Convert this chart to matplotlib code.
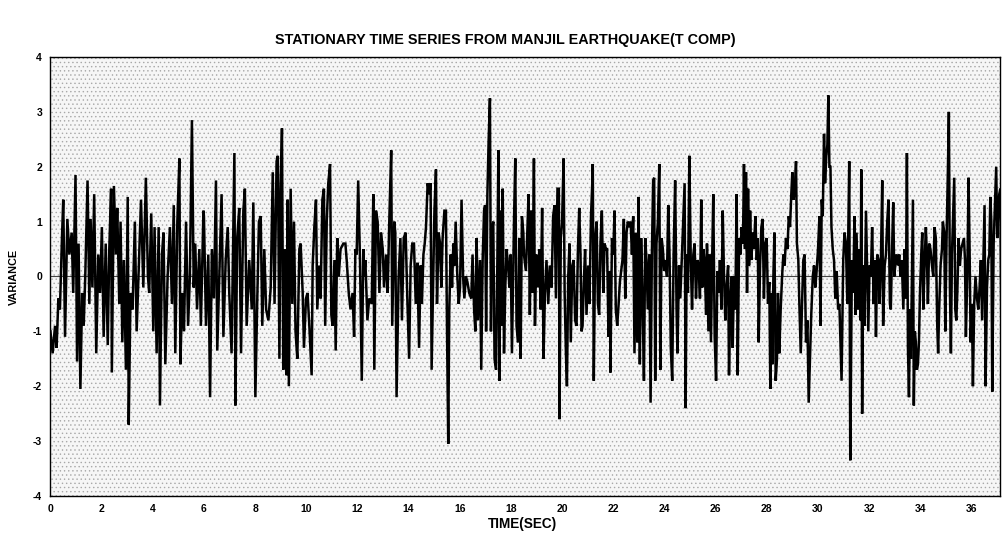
import matplotlib
matplotlib.use("Agg")
import matplotlib.pyplot as plt
from matplotlib.patches import Rectangle
import numpy as np

TITLE = "STATIONARY TIME SERIES FROM MANJIL EARTHQUAKE(T COMP)"
X_LABEL = "TIME(SEC)"
Y_LABEL = "VARIANCE"
x_ticks = list(range(0, 37, 2))
y_ticks = [-4, -3, -2, -1, 0, 1, 2, 3, 4]

# (time in s, value), segment by segment
seg_0_6 = [(0.0,-1.0),(0.085,-1.4),(0.18,-0.9),(0.24,-1.3),(0.31,-0.4),(0.37,-0.6),(0.45,0.7),(0.50,1.4),
    (0.57,-1.1),(0.66,1.05),(0.74,0.4),(0.83,0.8),(0.89,-0.3),(0.98,1.85),(1.04,-1.55),(1.10,0.6),(1.17,-2.05),
    (1.24,-0.3),(1.30,-0.9),(1.36,0.0),(1.45,1.75),(1.52,-0.5),(1.57,1.05),(1.64,-0.2),(1.71,1.5),(1.79,-1.4),
    (1.87,0.4),(1.94,-0.3),(2.01,0.9),(2.08,-1.1),(2.16,0.6),(2.24,-1.25),(2.30,0.5),(2.37,1.6),(2.40,-1.75),
    (2.48,1.65),(2.56,0.4),(2.61,1.25),(2.69,-0.5),(2.74,1.0),(2.81,-1.2),(2.87,0.3),(2.95,-1.7),(3.02,1.45),
    (3.06,-2.7),(3.13,-0.3),(3.21,-0.6),(3.30,1.0),(3.37,-1.0),(3.47,0.4),(3.54,1.4),(3.63,-0.2),(3.73,1.8),
    (3.81,0.0),(3.86,-0.3),(3.94,1.15),(4.02,-1.0),(4.07,0.9),(4.15,-1.4),(4.23,0.9),(4.28,-2.35),(4.36,0.4),
    (4.42,0.8),(4.49,-1.6),(4.58,0.0),(4.67,0.9),(4.75,-0.5),(4.82,1.3),(4.88,-1.4),(4.96,1.0),(5.04,2.15),
    (5.08,-1.6),(5.15,-0.3),(5.22,-1.0),(5.30,1.0),(5.38,-0.9),(5.45,0.0),(5.53,2.85),(5.60,-0.2),(5.66,0.6),
    (5.73,-0.6),(5.82,0.5),(5.88,-0.9),(5.98,1.2)]

seg_6_12 = [(6.00,1.1),(6.08,-0.9),(6.17,0.4),(6.24,-2.2),(6.31,0.5),(6.39,-0.4),(6.47,1.75),(6.52,-1.35),
    (6.60,0.0),(6.69,1.5),(6.76,-1.1),(6.85,0.3),(6.93,0.9),(6.99,-0.3),(7.08,-1.4),(7.19,2.25),(7.23,-2.35),
    (7.30,0.7),(7.38,1.25),(7.45,-1.4),(7.54,1.2),(7.60,1.6),(7.67,-0.9),(7.77,0.3),(7.87,-0.6),(7.93,1.35),
    (8.01,-2.2),(8.09,-0.3),(8.15,1.0),(8.22,1.1),(8.28,-0.9),(8.36,0.5),(8.43,-0.6),(8.52,-0.8),(8.61,-0.2),
    (8.69,1.9),(8.76,-0.5),(8.84,2.1),(8.89,2.2),(8.95,-1.5),(9.00,1.6),(9.05,2.7),(9.10,-1.7),(9.17,0.5),
    (9.23,-1.8),(9.27,1.4),(9.32,-2.0),(9.39,1.6),(9.455,-0.5),(9.52,1.0),(9.58,-1.0),(9.65,-1.5),(9.73,0.5),
    (9.78,0.6),(9.86,-0.3),(9.91,-1.3),(9.99,-0.4),(10.05,-0.3),(10.12,-0.9),(10.21,-1.8),(10.25,0.2),
    (10.315,0.9),(10.38,1.4),(10.43,-0.6),(10.51,0.2),(10.56,-0.4),(10.63,1.4),(10.69,1.6),(10.74,-0.9),
    (10.80,1.0),(10.86,1.7),(10.93,2.05),(10.98,-0.7),(11.03,-0.9),(11.10,0.3),(11.15,-1.35),(11.21,0.7),
    (11.27,0.0),(11.34,0.5),(11.45,0.6),(11.53,0.6),(11.58,0.3),(11.66,-0.3),(11.73,-0.6),(11.81,-0.3),
    (11.87,-1.1),(11.92,0.5),(11.97,0.4),(12.03,1.75),(12.10,0.3),(12.17,-1.9),(12.23,0.5)]

seg_12_18 = [(12.26,0.0),(12.31,0.3),(12.39,-0.8),(12.46,-0.4),(12.56,-0.5),(12.62,1.5),(12.66,-1.7),
    (12.725,1.2),(12.79,1.0),(12.86,-0.3),(12.92,0.8),(12.99,0.5),(13.04,-0.2),(13.12,0.4),(13.18,-0.3),
    (13.25,1.1),(13.32,2.3),(13.36,-0.9),(13.44,1.0),(13.48,0.8),(13.53,-2.2),(13.61,0.0),(13.68,0.7),
    (13.74,-0.8),(13.81,0.7),(13.885,0.8),(13.95,-0.4),(14.02,-1.5),(14.08,0.2),(14.145,0.6),(14.21,0.6),
    (14.28,-0.5),(14.34,0.25),(14.41,-1.3),(14.47,0.2),(14.52,-0.5),(14.58,0.4),(14.63,0.6),(14.68,0.9),
    (14.745,1.7),(14.81,1.5),(14.86,1.7),(14.90,-1.7),(14.97,0.2),(15.01,1.2),(15.07,1.95),(15.11,-0.5),
    (15.175,0.8),(15.23,0.6),(15.28,-0.2),(15.33,0.7),(15.40,1.2),(15.46,1.2),(15.50,-0.9),(15.55,-3.05),
    (15.59,-0.6),(15.645,0.4),(15.70,-0.2),(15.75,0.6),(15.79,0.2),(15.84,1.0),(15.905,0.0),(15.96,-0.5),
    (16.01,-0.2),(16.07,1.4),(16.13,0.0),(16.18,-0.4),(16.24,0.0),(16.30,-0.1),(16.37,-0.3),(16.45,-0.4),
    (16.50,0.4),(16.56,-0.6),(16.61,-1.0),(16.66,0.7),(16.71,-0.8),(16.79,0.3),(16.84,-1.7),(16.895,0.3),
    (16.95,1.2),(16.99,1.3),(17.03,-1.0),(17.08,1.5),(17.13,2.5),(17.18,3.25),(17.22,-1.0),(17.26,0.8),
    (17.31,1.0),(17.36,-1.5),(17.42,-1.7),(17.47,0.3),(17.51,2.3),(17.55,-1.9),(17.60,1.2),(17.64,-0.9),
    (17.68,1.6),(17.73,-1.4),(17.78,-0.2),(17.83,0.5),(17.89,0.2),(17.94,-0.2),(17.99,0.4),(18.04,-1.4),
    (18.12,1.0),(18.17,2.15),(18.22,-0.9),(18.28,-1.2),(18.33,0.7),(18.38,-1.5),(18.43,1.1),(18.485,0.8)]

seg_18_25 = [(18.51,0.4),(18.585,0.1),(18.64,0.8),(18.69,1.5),(18.74,-0.7),(18.79,1.2),(18.845,-0.3),
    (18.90,2.15),(18.94,-0.9),(18.99,0.4),(19.05,-0.2),(19.11,0.5),(19.16,-0.6),(19.22,1.25),(19.275,-1.5),
    (19.33,-0.3),(19.39,0.3),(19.46,-0.5),(19.52,0.2),(19.59,-0.2),(19.65,1.1),(19.705,1.3),(19.76,-0.4),
    (19.82,1.6),(19.875,1.6),(19.90,-2.6),(19.95,0.7),(20.00,1.0),(20.06,2.15),(20.10,-0.3),(20.15,-1.4),
    (20.19,-2.0),(20.24,0.0),(20.29,0.6),(20.34,-1.2),(20.40,0.2),(20.45,0.3),(20.51,-0.8),(20.565,-0.9),
    (20.62,0.5),(20.67,1.25),(20.72,0.4),(20.76,-1.0),(20.80,-0.9),(20.85,-0.1),(20.90,0.5),(20.955,-0.7),
    (21.02,0.2),(21.07,-0.5),(21.13,1.1),(21.18,1.7),(21.20,2.05),(21.24,-1.9),(21.295,0.7),(21.35,1.0),
    (21.40,-0.5),(21.45,-0.7),(21.50,0.6),(21.555,1.2),(21.61,-0.3),(21.66,0.6),(21.71,0.5),(21.76,0.5),
    (21.815,-1.1),(21.87,0.1),(21.89,-1.75),(21.95,0.7),(22.00,0.4),(22.05,1.2),(22.10,-0.6),(22.155,-0.9),
    (22.21,-0.5),(22.26,-0.1),(22.31,0.1),(22.36,0.3),(22.415,1.05),(22.47,-0.4),(22.52,0.8),(22.57,1.0),
    (22.62,0.9),(22.68,1.0),(22.73,0.4),(22.78,1.1),(22.83,-1.4),(22.885,0.8),(22.94,-1.2),(22.99,1.45),
    (23.04,-1.6),(23.09,0.7),(23.145,-0.4),(23.20,-1.9),(23.25,0.7),(23.30,0.3),(23.35,-0.6),(23.41,0.4),
    (23.46,-2.3),(23.51,0.4),(23.56,1.75),(23.60,1.8),(23.64,-1.9),(23.69,0.6),(23.745,1.0),(23.80,2.05),
    (23.84,-1.7),(23.89,0.7),(23.94,0.5),(23.99,0.1),(24.04,0.3),(24.10,0.0),(24.15,1.3),(24.20,0.4),
    (24.25,-1.3),(24.305,-1.9),(24.36,0.4),(24.42,1.75),(24.475,-0.6),(24.51,-1.4),(24.57,0.2),(24.62,-0.4),
    (24.67,0.2)]

seg_25_31 = [(24.79,1.7),(24.83,-2.4),(24.87,0.4),(24.92,-0.3),(24.975,2.2),(25.03,0.3),(25.08,-0.6),
    (25.13,0.4),(25.18,0.6),(25.235,-0.4),(25.29,0.3),(25.34,0.2),(25.39,-0.4),(25.44,1.4),(25.48,-0.2),
    (25.52,0.5),(25.57,0.3),(25.63,-0.7),(25.665,0.6),(25.72,-1.0),(25.77,0.4),(25.82,-1.2),(25.87,0.4),
    (25.91,1.5),(25.965,-1.1),(26.02,-1.9),(26.07,0.1),(26.12,-0.3),(26.17,0.3),(26.23,-0.6),(26.28,1.2),
    (26.33,0.0),(26.38,-0.8),(26.43,-0.2),(26.49,0.2),(26.525,-1.8),(26.58,-0.4),(26.63,0.0),(26.67,-1.3),
    (26.72,0.0),(26.77,-0.6),(26.825,1.5),(26.865,-1.8),(26.92,0.7),(26.97,0.4),(27.02,0.9),(27.07,0.6),
    (27.11,2.05),(27.15,0.5),(27.19,1.9),(27.23,-0.3),(27.27,1.6),(27.31,0.2),(27.35,1.2),(27.40,0.3),
    (27.45,0.8),(27.50,0.5),(27.555,1.1),(27.61,0.3),(27.65,0.7),(27.685,-1.2),(27.74,0.2),(27.79,0.9),
    (27.84,1.05),(27.89,-0.4),(27.945,0.6),(27.997,0.7),(28.05,-0.5),(28.10,-0.1),(28.14,-2.05),(28.18,-0.3),
    (28.22,-1.6),(28.26,0.0),(28.30,0.8),(28.35,-1.9),(28.40,-1.5),(28.44,-0.3),(28.49,-1.4),(28.545,-0.6),
    (28.60,0.0),(28.65,0.4),(28.70,0.2),(28.75,0.7),(28.81,0.5),(28.86,1.1),(28.91,0.9),(28.96,1.5),
    (29.00,1.9),(29.05,1.4),(29.11,1.7),(29.145,2.1),(29.18,0.6),(29.235,0.3),(29.275,-0.5),(29.33,-1.4),
    (29.38,-0.5),(29.43,0.3),(29.48,0.4),(29.535,-1.2),(29.59,-0.8),(29.64,-2.3),(29.69,-1.5),(29.74,-0.7),
    (29.80,0.0),(29.85,0.2),(29.90,-0.2),(29.95,0.1),(30.005,0.5),(30.06,1.1),(30.10,-0.9),(30.15,1.4),
    (30.19,1.1),(30.24,2.6),(30.28,1.7),(30.33,2.2),(30.37,2.4),(30.41,3.3),(30.45,2.0),(30.49,2.0),
    (30.53,0.9),(30.58,0.5),(30.63,0.3),(30.68,-0.4),(30.735,0.1),(30.79,-0.6),(30.84,-0.5)]

seg_31_37 = [(30.925,-1.9),(30.99,0.3),(31.04,0.8),(31.095,0.6),(31.15,-0.5),(31.225,2.1),(31.265,-3.35),
    (31.33,0.3),(31.38,-0.3),(31.43,1.1),(31.47,-0.7),(31.51,0.8),(31.58,-0.6),(31.615,0.5),(31.67,-0.8),
    (31.695,1.95),(31.73,-2.5),(31.77,0.2),(31.82,-0.9),(31.88,1.2),(31.93,0.0),(31.97,-1.0),(32.02,0.2),
    (32.07,0.0),(32.12,0.9),(32.18,-0.5),(32.23,0.3),(32.27,-1.1),(32.32,0.4),(32.37,0.3),(32.41,-0.5),
    (32.46,0.2),(32.515,1.75),(32.55,-0.9),(32.61,0.2),(32.66,0.4),(32.71,1.0),(32.76,1.4),(32.815,-0.5),
    (32.85,-0.6),(32.905,0.6),(32.945,1.35),(32.985,0.0),(33.04,0.3),(33.075,0.4),(33.13,0.2),(33.18,0.4),
    (33.23,0.0),(33.28,0.3),(33.34,-0.6),(33.39,0.5),(33.44,-0.4),(33.48,2.25),(33.52,-1.3),(33.56,-2.2),
    (33.60,-0.6),(33.635,-1.5),(33.675,0.0),(33.715,1.4),(33.75,-2.35),(33.79,-1.0),(33.83,-1.2),
    (33.87,-1.7),(33.91,-1.6),(33.95,-1.2),(33.99,-0.3),(34.04,0.4),(34.08,0.8),(34.12,-0.6),(34.17,0.2),
    (34.22,0.9),(34.26,0.4),(34.30,-0.5),(34.35,0.6),(34.40,0.5),(34.46,0.2),(34.51,0.0),(34.56,0.9),
    (34.61,0.7),(34.665,-0.9),(34.70,-1.4),(34.74,-0.6),(34.795,0.2),(34.85,0.5),(34.885,1.0),(34.94,0.8),
    (34.98,-1.0),(35.03,0.7),(35.08,1.9),(35.12,3.0),(35.16,-0.2),(35.20,-1.4),(35.24,0.4),(35.29,1.2),
    (35.33,1.8),(35.37,-0.6),(35.41,-0.8),(35.45,-0.3),(35.50,0.7),(35.55,0.2),(35.60,0.5),(35.655,0.6),
    (35.71,0.7),(35.75,0.3),(35.785,-1.1),(35.84,0.0),(35.89,1.8),(35.93,0.5),(35.97,-1.2),(36.02,-0.5),
    (36.06,-2.0),(36.11,-0.5),(36.16,0.0),(36.22,-0.4),(36.27,-0.6),(36.32,-0.2),(36.37,0.3),(36.42,-0.8),
    (36.48,0.5),(36.515,1.3),(36.555,-2.0),(36.61,-0.2),(36.66,0.3),(36.70,0.4),(36.74,1.45),(36.78,1.0),
    (36.815,-2.1),(36.87,0.6),(36.92,1.3),(36.97,2.0),(37.01,0.7),(37.05,1.2),(37.09,1.5),(37.13,1.6),
    (37.17,-0.9),(37.21,0.2),(37.245,0.8)]

segments = [seg_0_6, seg_6_12, seg_12_18, seg_18_25, seg_25_31, seg_31_37]
time_sec = np.array([p[0] for s in segments for p in s])
variance = np.array([p[1] for s in segments for p in s])

FONT = ["Liberation Sans Narrow", "Liberation Sans", "DejaVu Sans"]
plt.rcParams["font.family"] = FONT
plt.rcParams["hatch.linewidth"] = 0.5

fig = plt.figure(figsize=(10.03, 5.46), dpi=100)
ax = fig.add_axes([0.0503, 0.0916, 0.947, 0.804])
ax.set_facecolor("#f6f6f6")
bg = Rectangle((0, 0), 1, 1, transform=ax.transAxes, facecolor="none",
               edgecolor="#a8a8a8", hatch="....", linewidth=0, zorder=0)
ax.add_patch(bg)

ax.axhline(0, color="#444444", lw=0.8, zorder=1)
ax.plot(time_sec, variance, color="black", lw=1.8, zorder=2, solid_joinstyle="miter")

ax.set_xlim(0, 37.13)
ax.set_ylim(-4, 4)
ax.set_xticks(x_ticks)
ax.set_yticks(y_ticks)
ax.set_xticklabels([str(v) for v in x_ticks], fontsize=7.5, fontweight="bold")
ax.set_yticklabels([str(v) for v in y_ticks], fontsize=7.5, fontweight="bold")
ax.tick_params(axis="both", length=0, pad=6)
for sp in ax.spines.values():
    sp.set_linewidth(1.0)
    sp.set_color("black")

fig.text(0.504, 0.927, TITLE, ha="center", va="center", fontsize=10.4, fontweight="bold")
fig.text(0.521, 0.040, X_LABEL, ha="center", va="center", fontsize=9.8, fontweight="bold")
fig.text(0.014, 0.493, Y_LABEL, ha="center", va="center", fontsize=7.8, fontweight="bold", rotation=90)

fig.savefig("out.png", dpi=100)
